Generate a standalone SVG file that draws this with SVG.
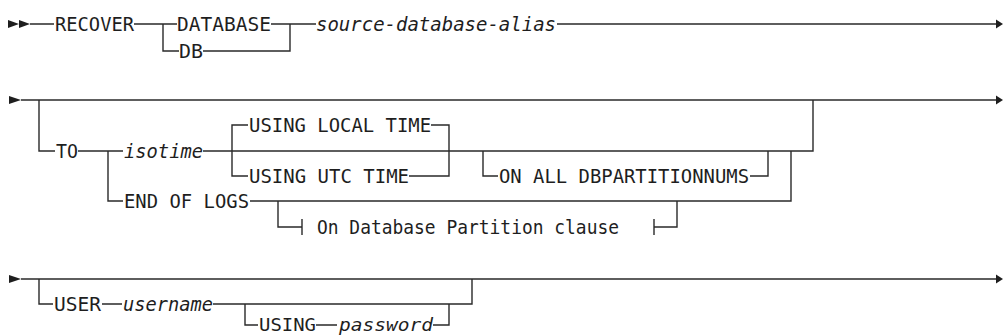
<svg xmlns="http://www.w3.org/2000/svg" width="1003" height="335" viewBox="0 0 1003 335">
<style>
.t{font-family:"DejaVu Sans Mono","Liberation Mono",monospace;font-size:20px;fill:#1e1e1e}
.s{font-size:18px}
.i{font-style:italic}
.c{stroke:#2a2a2a;stroke-width:1.4;fill:none}
.a{fill:#1e1e1e}
</style>
<rect width="1003" height="335" fill="#fff"/>
<g id="connectors">
<path class="c" d="M30 24H54M134 24H177M163 24V51H179M271 24H316M203 51H290V24M557 24H997"/>
<path class="c" d="M21 100H997M39 100V151H55M78 151H123M108 151V201H123M203 151H813V100M232 151V125H248M232 151V176H248M431 125H449V176H409M483 151V176H498M750 176H768V151M250 201H791V151M278 201V227H302M302 219V235M654 219V235M654 227H677V201"/>
<path class="c" d="M21 279H997M39 279V304H53M102 304H122M213 304H472V279M245 304V325H258M316 325H337M433 325H449V304"/>
<polygon class="a" points="8,20 19,24 8,28"/>
<polygon class="a" points="19,20 30,24 19,28"/>
<polygon class="a" points="996,19.5 1003,24 996,28.5"/>
<polygon class="a" points="9,96 21,100 9,104"/>
<polygon class="a" points="996,95.5 1003,100 996,104.5"/>
<polygon class="a" points="9,275 21,279 9,283"/>
<polygon class="a" points="996,274.5 1003,279 996,283.5"/>
</g>
<g id="n-recover"><text class="t" x="55" y="31.3" textLength="79" lengthAdjust="spacingAndGlyphs">RECOVER</text></g>
<g id="n-database"><text class="t" x="177" y="31.3" textLength="94" lengthAdjust="spacingAndGlyphs">DATABASE</text></g>
<g id="n-db"><text class="t" x="179" y="58.3" textLength="24" lengthAdjust="spacingAndGlyphs">DB</text></g>
<g id="n-alias"><text class="t i" x="316" y="31.3" textLength="240" lengthAdjust="spacingAndGlyphs">source-database-alias</text></g>
<g id="n-to"><text class="t" x="56" y="158.3" textLength="22" lengthAdjust="spacingAndGlyphs">TO</text></g>
<g id="n-isotime"><text class="t i" x="124" y="158.3" textLength="79" lengthAdjust="spacingAndGlyphs">isotime</text></g>
<g id="n-local"><text class="t" x="249" y="132.3" textLength="182" lengthAdjust="spacingAndGlyphs">USING LOCAL TIME</text></g>
<g id="n-utc"><text class="t" x="249" y="183.3" textLength="160" lengthAdjust="spacingAndGlyphs">USING UTC TIME</text></g>
<g id="n-onall"><text class="t" x="499" y="183.3" textLength="250" lengthAdjust="spacingAndGlyphs">ON ALL DBPARTITIONNUMS</text></g>
<g id="n-endlogs"><text class="t" x="124" y="208.3" textLength="125" lengthAdjust="spacingAndGlyphs">END OF LOGS</text></g>
<g id="n-partition"><text class="t" x="317" y="234.3" textLength="302" lengthAdjust="spacingAndGlyphs">On Database Partition clause</text></g>
<g id="n-user"><text class="t" x="54" y="311.3" textLength="47" lengthAdjust="spacingAndGlyphs">USER</text></g>
<g id="n-username"><text class="t i" x="123" y="311.3" textLength="90" lengthAdjust="spacingAndGlyphs">username</text></g>
<g id="n-using"><text class="t s" x="259" y="330.5" textLength="57" lengthAdjust="spacingAndGlyphs">USING</text></g>
<g id="n-password"><text class="t s i" x="339" y="330.5" textLength="94" lengthAdjust="spacingAndGlyphs">password</text></g>
</svg>
